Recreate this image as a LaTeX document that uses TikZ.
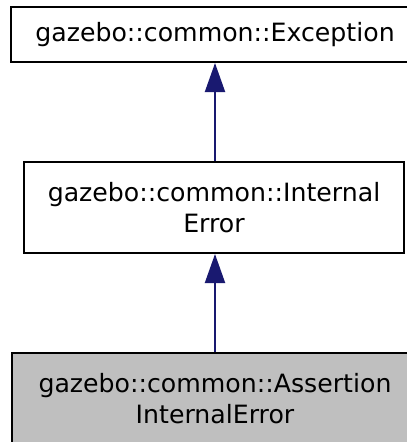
\documentclass[tikz,border=0pt]{standalone}
\usepackage{fontspec}
\setmainfont{DejaVu Sans}
\usetikzlibrary{arrows.meta}
\definecolor{edgeblue}{HTML}{191970}
\definecolor{nodegray}{HTML}{BFBFBF}
\tikzset{
  cls/.style={draw=black, line width=2pt, fill=white, inner sep=0pt, align=center,
    font=\fontsize{25.2pt}{31pt}\selectfont},
  cur/.style={cls, fill=nodegray},
  inh/.style={draw=edgeblue, line width=2pt, -{Triangle[length=29pt,width=20pt]}}
}
\begin{document}
\begin{tikzpicture}[x=1pt,y=-1pt]
\clip (0,0) rectangle (407,442);
\fill[white] (0,0) rectangle (407,442);
\node[cls, minimum width=408pt, minimum height=55pt] (exc) at (215,34.5) {gazebo::common::Exception};
\node[cls, minimum width=380pt, minimum height=91pt] (ie) at (214,207.5) {gazebo::common::Internal\\Error};
\node[cur, minimum width=406pt, minimum height=91pt] (aie) at (215,398.5) {gazebo::common::Assertion\\InternalError};
\draw[inh] (ie.north -| exc.south) -- (exc.south);
\draw[inh] (aie.north) -- (aie.north |- ie.south);
\end{tikzpicture}
\end{document}
